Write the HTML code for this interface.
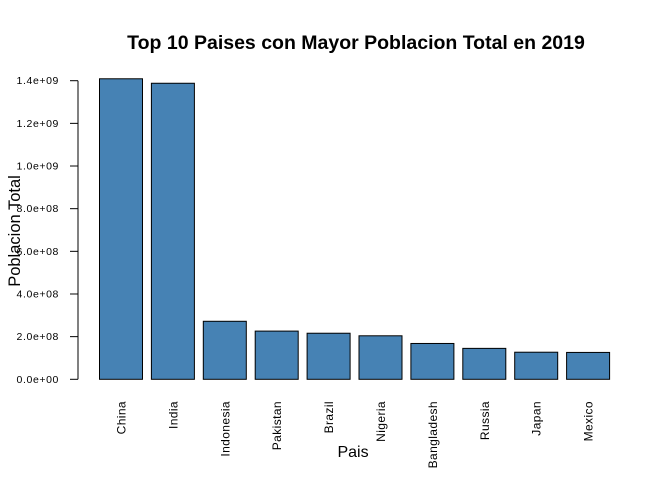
<!DOCTYPE html>
<html><head><meta charset="utf-8"><style>
body{margin:0;background:#fff}
svg text{font-family:"Liberation Sans",Arial,sans-serif}
</style></head><body>
<svg id="c" width="672" height="480" xmlns="http://www.w3.org/2000/svg">
<text x="356" y="49" text-anchor="middle" font-size="19.5" font-weight="bold">Top 10 Paises con Mayor Poblacion Total en 2019</text>
<text x="353" y="457" text-anchor="middle" font-size="16">Pais</text>
<text transform="translate(20,231) rotate(-90)" text-anchor="middle" font-size="16.5">Poblacion Total</text>
<g id="g"></g>
</svg>
<script>
const categories=["China","India","Indonesia","Pakistan","Brazil","Nigeria","Bangladesh","Russia","Japan","Mexico"];
const values=[1.409e9,1.388e9,2.72e8,2.26e8,2.16e8,2.04e8,1.68e8,1.45e8,1.27e8,1.26e8];
const yTicks=[0,2e8,4e8,6e8,8e8,1e9,1.2e9,1.4e9];
const yTickLabels=["0.0e+00","2.0e+08","4.0e+08","6.0e+08","8.0e+08","1.0e+09","1.2e+09","1.4e+09"];
const NS="http://www.w3.org/2000/svg",g=document.getElementById('g');
const y=v=>379.3-v*(298.6/1.4e9);
const x=i=>99.5+i*51.9;
const bw=43;
function mk(t,a){const e=document.createElementNS(NS,t);for(const k in a)e.setAttribute(k,a[k]);g.appendChild(e);return e;}
const ax=mk('line',{x1:78,x2:78,y1:y(0),y2:y(1.4e9),stroke:'#000'});


yTicks.forEach((v,i)=>{
 const t=mk('line',{x1:70,x2:78,y1:y(v),y2:y(v),stroke:'#000'});
 
 
 const l=mk('text',{x:59,y:y(v)+3.5,'text-anchor':'end','font-size':'10.5','letter-spacing':'0.6'});
 l.textContent=yTickLabels[i];
 
 
});
categories.forEach((c,i)=>{
 const r=mk('rect',{x:x(i),y:y(values[i]),width:bw,height:y(0)-y(values[i]),fill:'#4682b4',stroke:'#000','stroke-width':1});
 
 
 const cx=x(i)+bw/2+4.5;
 const l=mk('text',{transform:`translate(${cx},401) rotate(-90)`,'text-anchor':'end','font-size':'12','letter-spacing':'0.4'});
 l.textContent=c;
 
 
});
</script>
</body></html>
